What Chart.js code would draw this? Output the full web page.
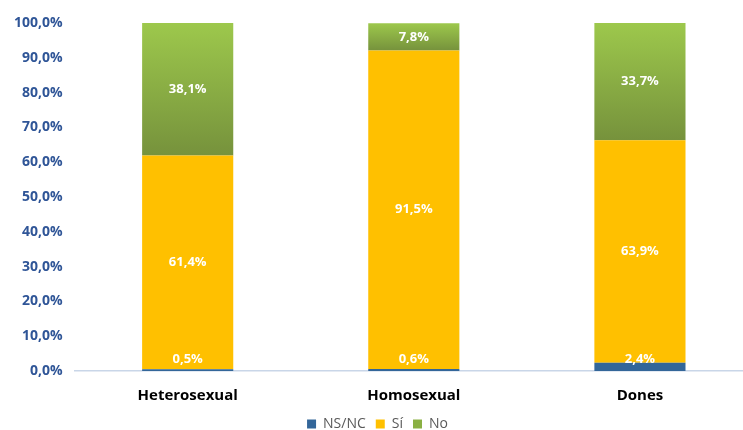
<!DOCTYPE html>
<html>
<head>
<meta charset="utf-8">
<script src="https://cdn.jsdelivr.net/npm/chart.js@4/dist/chart.umd.min.js"></script>
<style>
  html, body { margin: 0; padding: 0; background: #fff; overflow: hidden; }
  .wrap { width: 753px; height: 441px; }
</style>
</head>
<body>
<div class="wrap"><canvas id="myChart"></canvas></div>
<script>
// dades
const categories = ['Heterosexual', 'Homosexual', 'Dones'];
const nsnc = [0.5, 0.6, 2.4];
const si = [61.4, 91.5, 63.9];
const no = [38.1, 7.8, 33.7];
const yTicks = [0, 10, 20, 30, 40, 50, 60, 70, 80, 90, 100];

const fmt = (v) => v.toFixed(1).replace('.', ',') + '%';

// degradat verd per al segment "No"
function greenFill(ctx) {
  const chart = ctx.chart;
  if (ctx.type !== 'data' || !chart.chartArea) return '#8AB043';
  const y = chart.scales.y;
  const i = ctx.dataIndex;
  const top = y.getPixelForValue(nsnc[i] + si[i] + no[i]);
  const bottom = y.getPixelForValue(nsnc[i] + si[i]);
  const g = chart.ctx.createLinearGradient(0, top, 0, bottom);
  g.addColorStop(0, '#9DC84C');
  g.addColorStop(1, '#76923C');
  return g;
}

// etiquetes de valor
const valueLabels = {
  id: 'valueLabels',
  afterDatasetsDraw(chart) {
    const c = chart.ctx;
    c.save();
    c.font = 'bold 13px "Open Sans", sans-serif';
    c.fillStyle = '#ffffff';
    c.textAlign = 'center';
    c.textBaseline = 'middle';
    chart.data.datasets.forEach((ds, di) => {
      const meta = chart.getDatasetMeta(di);
      meta.data.forEach((bar, i) => {
        let yy = (bar.y + bar.base) / 2;
        if (di === 0) yy = bar.base - 12;
        c.fillText(fmt(ds.data[i]), bar.x, yy);
      });
    });
    c.restore();
  }
};

const ctx = document.getElementById('myChart').getContext('2d');
new Chart(ctx, {
  type: 'bar',
  data: {
    labels: categories,
    datasets: [
      { label: 'NS/NC', data: nsnc, backgroundColor: '#336699' },
      { label: 'Sí', data: si, backgroundColor: '#FFC000' },
      { label: 'No', data: no, backgroundColor: greenFill }
    ]
  },
  options: {
    responsive: true,
    maintainAspectRatio: false,
    animation: false,
    categoryPercentage: 1,
    barPercentage: 0.403,
    layout: { padding: { top: 23, left: 2, right: 0, bottom: 0 } },
    scales: {
      x: {
        stacked: true,
        grid: { display: false, drawTicks: false },
        border: { color: '#C9D6E8', width: 1.5 },
        afterFit: (axis) => { axis.height -= 14; },
        ticks: {
          color: '#000000',
          font: { family: 'Open Sans', size: 15, weight: 'bold' },
          padding: 16
        }
      },
      y: {
        stacked: true,
        min: 0,
        max: 100,
        afterBuildTicks: (axis) => { axis.ticks = yTicks.map(v => ({ value: v })); },
        grid: { display: false, drawTicks: false },
        border: { display: false },
        ticks: {
          color: '#2F5597',
          font: { family: 'Open Sans', size: 14, weight: 'bold' },
          padding: 12,
          callback: (v) => fmt(v)
        }
      }
    },
    plugins: {
      legend: {
        position: 'bottom',
        labels: {
          boxWidth: 9,
          boxHeight: 9,
          padding: 10,
          color: '#595959',
          font: { family: 'Open Sans', size: 14 },
          generateLabels: (chart) => {
            const items = Chart.defaults.plugins.legend.labels.generateLabels(chart);
            const cols = ['#336699', '#FFC000', '#8AB043'];
            items.forEach((it, k) => { it.fillStyle = cols[k]; it.strokeStyle = cols[k]; it.lineWidth = 0; });
            return items;
          }
        }
      },
      tooltip: { enabled: false }
    }
  },
  plugins: [valueLabels]
});
</script>
</body>
</html>
